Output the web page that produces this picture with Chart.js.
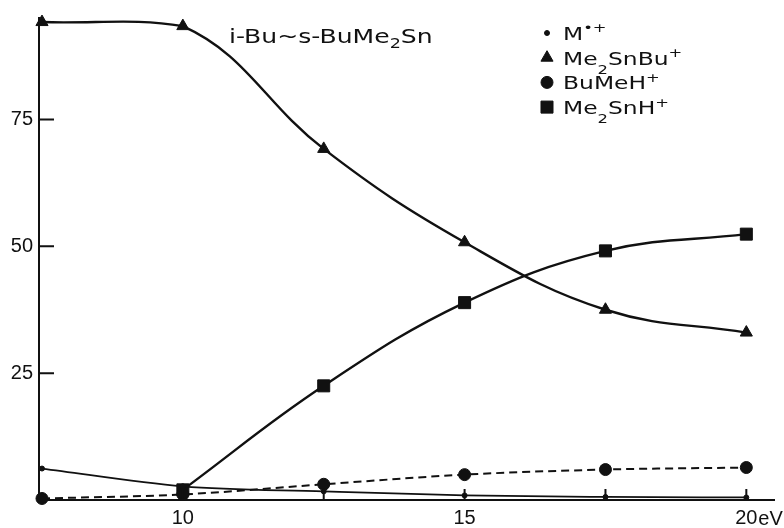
<!DOCTYPE html>
<html>
<head>
<meta charset="utf-8">
<script src="https://cdn.jsdelivr.net/npm/chart.js@4.4.0/dist/chart.umd.min.js"></script>
<style>
  html, body { margin: 0; padding: 0; background: #fff; }
</style>
</head>
<body>
<canvas id="ionChart" width="784" height="528"></canvas>
<script>
// electron energy (eV) and relative ion abundances
const energies = [7.5, 10, 12.5, 15, 17.5, 20];
const mIon = [6.2, 2.7, 1.7, 0.9, 0.6, 0.5];
const me2SnBu = [94.2, 93.4, 69.2, 50.8, 37.5, 33.0];
const buMeH = [0.3, 1.1, 3.1, 5.0, 6.0, 6.4];
const me2SnH = [null, 2.0, 22.5, 38.9, 49.1, 52.4];

const seriesLabels = ["M•+", "Me2SnBu+", "BuMeH+", "Me2SnH+"];
const titleText = "i-Bu~s-BuMe2Sn";
const xTicks = [10, 12.5, 15, 17.5, 20];
const xTickLabels = ["10", "", "15", "", "20"];
const yTicks = [25, 50, 75];

const ink = "#111";

function points(values) {
  return energies
    .map((e, i) => ({ x: e, y: values[i] }))
    .filter(p => p.y !== null);
}

// digits become subscripts, + and • superscripts
function splitRich(str) {
  const parts = [];
  for (const ch of str) {
    const kind = /[0-9]/.test(ch) ? "sub" : /[+•]/.test(ch) ? "sup" : "n";
    const last = parts[parts.length - 1];
    if (last && last.kind === kind) last.text += ch;
    else parts.push({ text: ch, kind: kind });
  }
  return parts;
}

function drawRich(ctx, str, x, y, size, stretch, subDrop) {
  ctx.save();
  ctx.translate(x, y);
  ctx.scale(stretch, 1);
  ctx.textAlign = "left";
  ctx.textBaseline = "alphabetic";
  let cx = 0;
  splitRich(str).forEach(p => {
    const s = p.kind === "n" ? size : size * 0.7;
    const dy = p.kind === "sub" ? size * subDrop : p.kind === "sup" ? -size * 0.42 : 0;
    ctx.font = s + 'px "DejaVu Sans"';
    ctx.fillText(p.text, cx, dy);
    cx += ctx.measureText(p.text).width;
  });
  ctx.restore();
}

const annotate = {
  id: "annotate",
  afterDraw(chart) {
    const { ctx, chartArea, scales } = chart;
    ctx.save();
    ctx.strokeStyle = ink;
    ctx.fillStyle = ink;
    ctx.lineWidth = 2;

    // tick marks point into the plot
    ctx.beginPath();
    yTicks.forEach(v => {
      const py = scales.y.getPixelForValue(v);
      ctx.moveTo(chartArea.left, py);
      ctx.lineTo(chartArea.left + 15, py);
    });
    xTicks.forEach(v => {
      const px = scales.x.getPixelForValue(v);
      ctx.moveTo(px, chartArea.bottom);
      ctx.lineTo(px, chartArea.bottom - 11);
    });
    ctx.stroke();

    // unit right after the last tick label
    ctx.font = '20px "Liberation Sans"';
    ctx.textBaseline = "alphabetic";
    ctx.textAlign = "left";
    ctx.fillText("eV", scales.x.getPixelForValue(20) + 12, chartArea.bottom + 25);

    drawRich(ctx, titleText, 229, 43, 19, 1.32, 0.27);

    // legend
    const drawPoint = Chart.helpers && Chart.helpers.drawPoint;
    chart.data.datasets.forEach((ds, i) => {
      const rowY = 33 + i * 24.7;
      ctx.fillStyle = ink;
      ctx.strokeStyle = ink;
      ctx.lineWidth = 1;
      if (drawPoint) {
        drawPoint(ctx, { pointStyle: ds.pointStyle, radius: ds.pointRadius, rotation: 0, borderWidth: 1 }, 547, rowY);
      }
      drawRich(ctx, ds.label, 563, rowY + 7, 18, 1.3, 0.5);
    });
    ctx.restore();
  }
};

const lineBase = {
  borderColor: ink,
  backgroundColor: ink,
  pointBorderColor: ink,
  pointBackgroundColor: ink,
  pointBorderWidth: 1,
  tension: 0.4,
  clip: false
};

new Chart(document.getElementById("ionChart"), {
  type: "line",
  data: {
    datasets: [
      Object.assign({}, lineBase, {
        label: seriesLabels[0], data: points(mIon),
        pointStyle: "circle", pointRadius: 2.5, borderWidth: 1.8,
        cubicInterpolationMode: "monotone"
      }),
      Object.assign({}, lineBase, {
        label: seriesLabels[1], data: points(me2SnBu),
        pointStyle: "triangle", pointRadius: 7, borderWidth: 2.4
      }),
      Object.assign({}, lineBase, {
        label: seriesLabels[2], data: points(buMeH),
        pointStyle: "circle", pointRadius: 6, borderWidth: 2, borderDash: [8, 5],
        cubicInterpolationMode: "monotone"
      }),
      Object.assign({}, lineBase, {
        label: seriesLabels[3], data: points(me2SnH),
        pointStyle: "rect", pointRadius: 8.5, borderWidth: 2.4
      })
    ]
  },
  options: {
    responsive: false,
    animation: false,
    layout: { padding: { top: 14, right: 4, left: 0, bottom: 0 } },
    plugins: {
      legend: { display: false },
      tooltip: { enabled: false }
    },
    scales: {
      x: {
        type: "linear",
        min: 7.447,
        max: 20.5,
        afterFit(scale) {
          scale.height = 28;
          scale.paddingLeft = 0;
          scale.paddingRight = 0;
        },
        afterBuildTicks(scale) { scale.ticks = xTicks.map(v => ({ value: v })); },
        grid: { display: false, drawTicks: false },
        border: { display: true, color: ink, width: 2 },
        ticks: {
          autoSkip: false,
          maxRotation: 0,
          padding: 6,
          color: ink,
          font: { family: "Liberation Sans", size: 20 },
          callback: (value, index) => xTickLabels[index]
        }
      },
      y: {
        min: 0,
        max: 95,
        afterFit(scale) { scale.width = 39; },
        afterBuildTicks(scale) { scale.ticks = yTicks.map(v => ({ value: v })); },
        grid: { display: false, drawTicks: false },
        border: { display: true, color: ink, width: 2 },
        ticks: {
          padding: 6,
          color: ink,
          font: { family: "Liberation Sans", size: 20 },
          callback: value => String(value)
        }
      }
    }
  },
  plugins: [annotate]
});
</script>
</body>
</html>
